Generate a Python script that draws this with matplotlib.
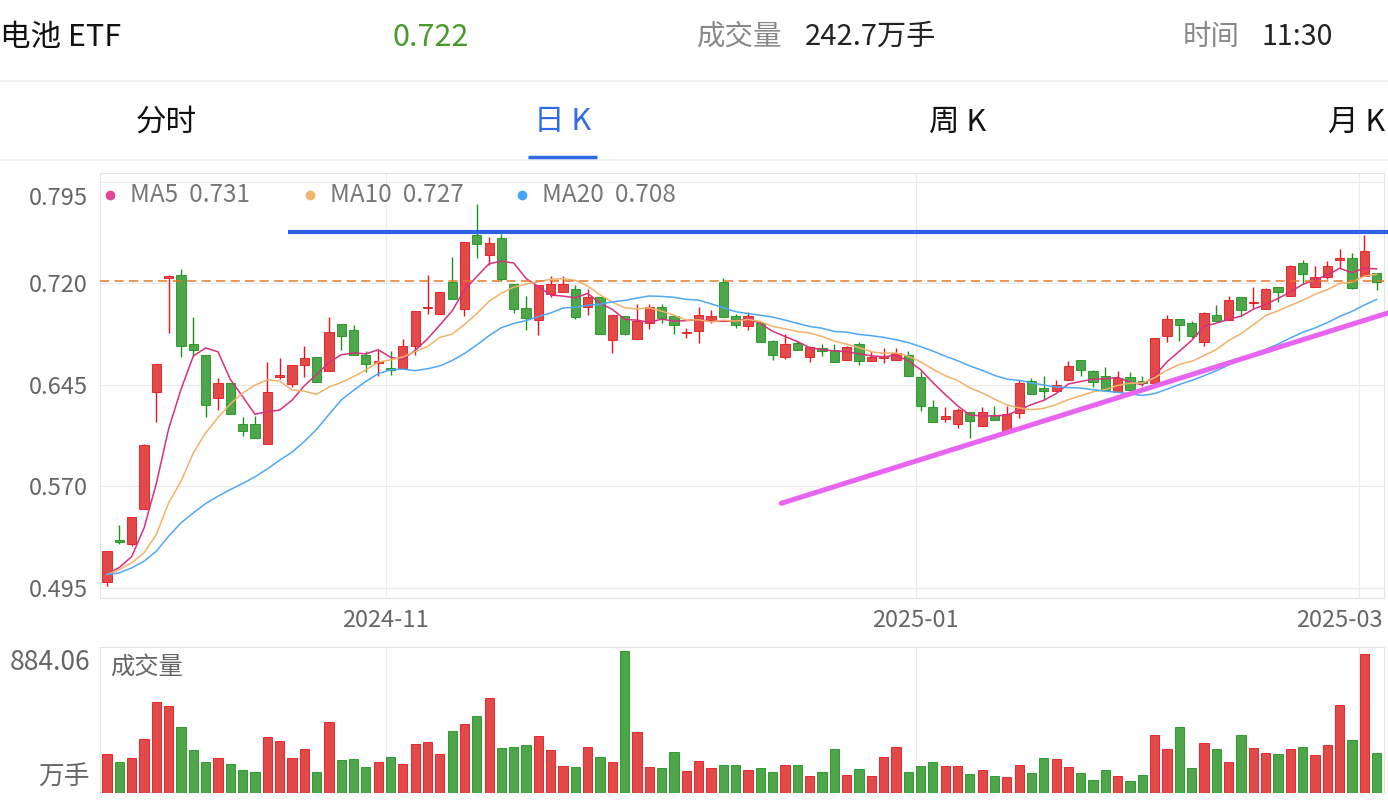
import matplotlib.pyplot as plt
from matplotlib.transforms import ScaledTranslation

plt.rcParams['font.family'] = ['Noto Sans CJK SC', 'DejaVu Sans']

# ---------------- data ----------------
opens = [0.4994, 0.530, 0.527, 0.5535, 0.6399, 0.7242, 0.726, 0.675, 0.6667, 0.6354,
         0.646, 0.6162, 0.6162, 0.6015, 0.6507, 0.6455, 0.6598, 0.6654, 0.6554, 0.6901,
         0.6854, 0.6667, 0.661, 0.6573, 0.6573, 0.6733, 0.7016, 0.6974, 0.7206, 0.701,
         0.7557, 0.741, 0.7538, 0.7193, 0.7016, 0.6925, 0.7119, 0.7134, 0.7159, 0.7028,
         0.7102, 0.6782, 0.6955, 0.6787, 0.691, 0.7028, 0.6955, 0.6829, 0.6849, 0.693,
         0.7206, 0.6955, 0.6881, 0.6905, 0.677, 0.6652, 0.6758, 0.6654, 0.6721, 0.6708,
         0.6635, 0.6753, 0.6623, 0.6645, 0.6635, 0.6667, 0.6504, 0.6283, 0.6197, 0.6162,
         0.6248, 0.6148, 0.6229, 0.611, 0.6241, 0.648, 0.6426, 0.6401, 0.6487, 0.6635,
         0.6549, 0.6512, 0.6396, 0.6507, 0.6475, 0.6463, 0.6807, 0.6935, 0.6905, 0.6763,
         0.6967, 0.6925, 0.7095, 0.7053, 0.7009, 0.7176, 0.7107, 0.7348, 0.7171, 0.7245,
         0.7373, 0.7385, 0.7257, 0.7279]
highs = [0.5225, 0.5417, 0.5474, 0.6015, 0.6605, 0.726, 0.7304, 0.695, 0.6667, 0.6499,
         0.646, 0.621, 0.6217, 0.6618, 0.6647, 0.6595, 0.674, 0.6654, 0.695, 0.6901,
         0.6891, 0.6696, 0.6708, 0.6696, 0.6787, 0.6996, 0.7262, 0.7137, 0.7392, 0.7508,
         0.7784, 0.7545, 0.7562, 0.7193, 0.7107, 0.7188, 0.7255, 0.725, 0.7188, 0.7156,
         0.7102, 0.6967, 0.6955, 0.7048, 0.7048, 0.7048, 0.6955, 0.6869, 0.7021, 0.7004,
         0.7238, 0.6974, 0.6987, 0.6918, 0.6782, 0.6827, 0.677, 0.674, 0.6753, 0.6753,
         0.674, 0.6763, 0.6696, 0.6721, 0.6721, 0.6696, 0.6549, 0.634, 0.6285, 0.6278,
         0.6248, 0.6285, 0.6295, 0.629, 0.6482, 0.6499, 0.6517, 0.6487, 0.6627, 0.6635,
         0.6561, 0.6578, 0.6549, 0.6541, 0.6517, 0.6795, 0.6967, 0.6935, 0.6918, 0.6991,
         0.7041, 0.7107, 0.7095, 0.7171, 0.7164, 0.7176, 0.7336, 0.7373, 0.7331, 0.7365,
         0.7451, 0.7422, 0.7557, 0.7279]
lows = [0.4962, 0.527, 0.526, 0.5535, 0.6172, 0.6832, 0.6652, 0.666, 0.6212, 0.626,
        0.6236, 0.6069, 0.6054, 0.6015, 0.6492, 0.6436, 0.6504, 0.6468, 0.6554, 0.6708,
        0.6667, 0.6546, 0.6512, 0.6524, 0.6573, 0.6669, 0.6974, 0.6974, 0.7085, 0.6955,
        0.7385, 0.7336, 0.722, 0.6979, 0.6856, 0.6814, 0.7095, 0.7134, 0.6935, 0.6962,
        0.6827, 0.6684, 0.6815, 0.6787, 0.6864, 0.6905, 0.6824, 0.6795, 0.6758, 0.6905,
        0.6947, 0.6869, 0.6856, 0.6765, 0.6635, 0.664, 0.6708, 0.6615, 0.6664, 0.6618,
        0.663, 0.6598, 0.6623, 0.661, 0.6635, 0.6517, 0.6254, 0.6175, 0.6175, 0.613,
        0.6057, 0.6148, 0.6192, 0.611, 0.6204, 0.6384, 0.634, 0.6401, 0.6487, 0.6517,
        0.6433, 0.6413, 0.6396, 0.6408, 0.6438, 0.6463, 0.6763, 0.677, 0.6795, 0.6733,
        0.6918, 0.6925, 0.6955, 0.7016, 0.7009, 0.7065, 0.7107, 0.7201, 0.7171, 0.723,
        0.7316, 0.7159, 0.7257, 0.7147]
closes = [0.5225, 0.529, 0.5474, 0.6003, 0.6605, 0.7255, 0.6738, 0.6709, 0.6303, 0.6463,
          0.6236, 0.6106, 0.6054, 0.6394, 0.6524, 0.6595, 0.6645, 0.6468, 0.6841, 0.6807,
          0.6667, 0.6605, 0.6625, 0.6561, 0.6733, 0.6996, 0.7028, 0.7137, 0.7085, 0.7508,
          0.7491, 0.7501, 0.7233, 0.701, 0.6942, 0.7188, 0.7193, 0.7193, 0.6947, 0.7102,
          0.6827, 0.6967, 0.6822, 0.6918, 0.7028, 0.6942, 0.6891, 0.6839, 0.6962, 0.6955,
          0.6947, 0.6893, 0.6955, 0.6765, 0.6667, 0.6753, 0.6708, 0.6726, 0.6696, 0.6618,
          0.6728, 0.6623, 0.6654, 0.6659, 0.6684, 0.6517, 0.6295, 0.6175, 0.6221, 0.6266,
          0.618, 0.6248, 0.6192, 0.6234, 0.6463, 0.6384, 0.6401, 0.6445, 0.6586, 0.6556,
          0.6468, 0.6413, 0.6499, 0.6408, 0.6463, 0.6795, 0.6935, 0.6888, 0.6807, 0.6979,
          0.6918, 0.7078, 0.6999, 0.7065, 0.7159, 0.7134, 0.7329, 0.7269, 0.7245, 0.7324,
          0.739, 0.7164, 0.7439, 0.7213]
volumes = [240, 190, 219, 334, 565, 542, 413, 267, 196, 217,
           181, 146, 133, 346, 321, 217, 273, 129, 440, 204,
           211, 161, 190, 223, 179, 304, 319, 242, 384, 432,
           482, 594, 279, 286, 296, 357, 267, 171, 163, 284,
           227, 190, 884.06, 377, 161, 154, 254, 140, 202, 154,
           175, 175, 142, 156, 133, 177, 175, 104, 129, 277,
           113, 150, 104, 223, 284, 133, 167, 192, 165, 167,
           119, 142, 106, 100, 173, 123, 217, 213, 161, 125,
           83, 144, 106, 73, 110, 361, 277, 411, 154, 313,
           271, 192, 359, 279, 252, 242, 273, 284, 236, 296,
           550, 332, 867, 246]
ma5 = [0.505, 0.510, 0.518, 0.539, 0.572, 0.6125, 0.6415, 0.6662, 0.6722, 0.6694,
       0.649, 0.6363, 0.6232, 0.6251, 0.6263, 0.6335, 0.6442, 0.6525, 0.6615, 0.6671,
       0.6686, 0.6678, 0.6709, 0.6653, 0.6638, 0.6704, 0.6789, 0.6891, 0.6996, 0.7151,
       0.725, 0.7344, 0.7364, 0.7349, 0.7235, 0.7175, 0.7113, 0.7105, 0.7093, 0.7125,
       0.7052, 0.7007, 0.6933, 0.6927, 0.6912, 0.6935, 0.692, 0.6924, 0.6932, 0.6918,
       0.6919, 0.6919, 0.6942, 0.6903, 0.6845, 0.6807, 0.677, 0.6724, 0.671, 0.67,
       0.6695, 0.6678, 0.6664, 0.6656, 0.667, 0.6627, 0.6562, 0.6466, 0.6378, 0.6295,
       0.6227, 0.6218, 0.6221, 0.6224, 0.6263, 0.6304, 0.6335, 0.6385, 0.6456, 0.6474,
       0.6491, 0.6494, 0.6504, 0.6469, 0.645, 0.6516, 0.662, 0.6698, 0.6778, 0.6881,
       0.6905, 0.6934, 0.6956, 0.7008, 0.7044, 0.7087, 0.7137, 0.7191, 0.7227, 0.726,
       0.7311, 0.7278, 0.7312, 0.7306]
ma10 = [0.5048, 0.5085, 0.5134, 0.5208, 0.5343, 0.5577, 0.5737, 0.5946, 0.6094, 0.6207,
        0.6308, 0.6389, 0.6447, 0.6486, 0.6478, 0.6412, 0.6403, 0.6379, 0.6433, 0.6467,
        0.651, 0.656, 0.6617, 0.6634, 0.6655, 0.6695, 0.6733, 0.68, 0.6824, 0.6895,
        0.6977, 0.7067, 0.7127, 0.7172, 0.7193, 0.7212, 0.7229, 0.7234, 0.7221, 0.718,
        0.7114, 0.706, 0.7019, 0.701, 0.7018, 0.6994, 0.6964, 0.6928, 0.693, 0.6915,
        0.6927, 0.692, 0.6933, 0.6918, 0.6882, 0.6863, 0.6844, 0.6833, 0.6807, 0.6773,
        0.6751, 0.6724, 0.6694, 0.6683, 0.6685, 0.6661, 0.662, 0.6565, 0.6517, 0.6482,
        0.6427, 0.639, 0.6344, 0.6301, 0.6279, 0.6266, 0.6276, 0.6303, 0.634, 0.6369,
        0.6398, 0.6414, 0.6445, 0.6462, 0.6462, 0.6503, 0.6557, 0.6601, 0.6623, 0.6666,
        0.6711, 0.6777, 0.6827, 0.6893, 0.6962, 0.6996, 0.7036, 0.7074, 0.7118, 0.7152,
        0.7199, 0.7208, 0.7252, 0.7267]
ma20 = [0.5048, 0.506, 0.5097, 0.5146, 0.522, 0.5331, 0.5429, 0.5503, 0.5572, 0.5626,
        0.5675, 0.572, 0.5769, 0.5828, 0.5892, 0.5951, 0.603, 0.612, 0.623, 0.6337,
        0.6409, 0.6475, 0.6532, 0.656, 0.6566, 0.6554, 0.6568, 0.6589, 0.6629, 0.6681,
        0.6744, 0.6813, 0.6872, 0.6903, 0.6924, 0.6954, 0.6981, 0.7017, 0.7023, 0.7037,
        0.7045, 0.7063, 0.7073, 0.7091, 0.7106, 0.7103, 0.7096, 0.7081, 0.7075, 0.7048,
        0.702, 0.699, 0.6976, 0.6964, 0.695, 0.6928, 0.6904, 0.6881, 0.6868, 0.6844,
        0.6839, 0.6822, 0.6813, 0.68, 0.6783, 0.6762, 0.6732, 0.6699, 0.6662, 0.6628,
        0.6589, 0.6557, 0.6519, 0.6492, 0.6482, 0.6464, 0.6448, 0.6434, 0.6429, 0.6426,
        0.6413, 0.6402, 0.6394, 0.6382, 0.6371, 0.6385, 0.6417, 0.6452, 0.6482, 0.6517,
        0.6554, 0.6596, 0.6636, 0.6678, 0.6712, 0.675, 0.6796, 0.6837, 0.687, 0.6909,
        0.6955, 0.6992, 0.7039, 0.708]

price_ticks = [0.495, 0.570, 0.645, 0.720, 0.795]
month_labels = ["2024-11", "2025-01", "2025-03"]
month_first_bar = [23, 66, 102]
ma_names = ["MA5", "MA10", "MA20"]
ma_last = ["0.731", "0.727", "0.708"]
last_price = 0.722
vol_max = 884.06
resistance = 0.7577
resistance_from = 14.7
support_x = [54.7, 103.9]
support_y = [0.5574, 0.698]

# ---------------- figure ----------------
W, H = 1388, 808
fig = plt.figure(figsize=(W / 100, H / 100), dpi=100)


def box(x0, y0, x1, y1):
    return [x0 / W, 1 - y1 / H, (x1 - x0) / W, (y1 - y0) / H]


RED, RED_E = '#E24A4A', '#E8141B'
GREEN, GREEN_E = '#4EA54A', '#17951A'
GRID = '#ebebeb'
LABEL = '#666666'

n = len(closes)
xs = list(range(n))
up = [c >= o for o, c in zip(opens, closes)]
fills = [RED if u else GREEN for u in up]
edges = [RED_E if u else GREEN_E for u in up]
xlim = (-0.57, 103.6)
grid_x = [i - 0.4 for i in month_first_bar]

# ---------------- price panel ----------------
ax = fig.add_axes(box(100, 172.7, 1384, 598.3))
ax.set_xlim(*xlim)
ax.set_ylim(0.4872, 0.8017)
for s in ax.spines.values():
    s.set_color('#e3e3e3')
ax.set_yticks(price_ticks)
ax.set_yticklabels([f'{t:.3f}' for t in price_ticks])
ax.set_xticks(grid_x)
ax.set_xticklabels(month_labels)
ax.tick_params(length=0, labelsize=17, labelcolor=LABEL)
ax.tick_params(axis='y', pad=9)
ax.tick_params(axis='x', pad=8)
top_lbl = ax.get_yticklabels()[-1]
top_lbl.set_va('top')
top_lbl.set_transform(top_lbl.get_transform() + ScaledTranslation(0, -0.05, fig.dpi_scale_trans))
last_lbl = ax.get_xticklabels()[-1]
last_lbl.set_ha('right')
last_lbl.set_transform(last_lbl.get_transform() + ScaledTranslation(0.23, 0, fig.dpi_scale_trans))
ax.grid(True, color=GRID, lw=0.8)
ax.set_axisbelow(True)

ax.vlines(xs, lows, highs, colors=edges, lw=1.0, zorder=2)
ax.bar(xs, [max(abs(c - o), 0.0008) for o, c in zip(opens, closes)], width=0.75,
       bottom=[min(o, c) for o, c in zip(opens, closes)],
       color=fills, edgecolor=edges, linewidth=0.6, zorder=3)

ma_colors = ['#D6307E', '#F2B268', '#4EA8F7']
ax.plot(xs, ma5, color=ma_colors[0], lw=1.1, zorder=4)
ax.plot(xs, ma10, color=ma_colors[1], lw=1.1, zorder=4)
ax.plot(xs, ma20, color=ma_colors[2], lw=1.1, zorder=4)

ax.axhline(last_price, color='#E8782A', lw=1.1, ls=(0, (6, 3.5)), zorder=5)
ax.plot([resistance_from, 103.92], [resistance, resistance], color='#2D63E2', lw=3,
        solid_capstyle='butt', clip_on=False, zorder=6)
ax.plot(support_x, support_y, color='#E864F0', lw=3.6, solid_capstyle='round',
        clip_on=False, zorder=6)

# ---------------- volume panel ----------------
axv = fig.add_axes(box(100, 647, 1384, 793))
axv.set_xlim(*xlim)
axv.set_ylim(0, vol_max * 146 / 142)
for s in axv.spines.values():
    s.set_color('#e3e3e3')
axv.spines['bottom'].set_visible(False)
axv.set_yticks([])
axv.set_xticks(grid_x)
axv.set_xticklabels([])
axv.tick_params(length=0)
axv.grid(True, axis='x', color=GRID, lw=0.8)
axv.set_axisbelow(True)
axv.bar(xs, volumes, width=0.75, color=fills, edgecolor=edges, linewidth=0.6)

# ---------------- overlay: header, tabs, legends ----------------
ov = fig.add_axes([0, 0, 1, 1])
ov.set_xlim(0, W)
ov.set_ylim(H, 0)
ov.axis('off')
ov.set_zorder(10)

ov.text(0, 37, '电池 ETF', fontsize=22, color='#111111', va='center')
ov.text(393, 37, f'{last_price:.3f}', fontsize=22, color='#4A992C', va='center')
ov.text(697, 37, '成交量', fontsize=20.5, color='#888888', va='center')
ov.text(805, 37, '242.7万手', fontsize=21, color='#222222', va='center')
ov.text(1183, 37, '时间', fontsize=20.5, color='#888888', va='center')
ov.text(1262, 37, '11:30', fontsize=20.5, color='#222222', va='center')
ov.axhline(81, color='#ececec', lw=1.2)
ov.axhline(160, color='#ececec', lw=1.2)
for label, cx, col in [('分时', 166, '#111111'), ('日 K', 563, '#2F6BE8'),
                       ('周 K', 958, '#111111'), ('月 K', 1357, '#111111')]:
    ov.text(cx, 122, label, fontsize=22, color=col, ha='center', va='center')
ov.plot([528, 597], [157, 157], color='#2F6BE8', lw=2.5, solid_capstyle='butt')

dot_colors = ['#E0468F', '#F0B46A', '#4BA3F5']
for name, val, dc, lx in zip(ma_names, ma_last, dot_colors, [110, 310, 522]):
    ov.plot(lx, 195, 'o', color=dc, ms=6)
    ov.text(lx + 20, 195, f'{name}  {val}', fontsize=17.5, color='#777777', va='center')

ov.text(90, 662, f'{vol_max:.2f}', fontsize=19, color=LABEL, ha='right', va='center')
ov.text(90, 778, '万手', fontsize=18.5, color=LABEL, ha='right', va='center')
ov.text(110, 667, '成交量', fontsize=17.5, color=LABEL, va='center')

fig.savefig('out.png', dpi=100)
